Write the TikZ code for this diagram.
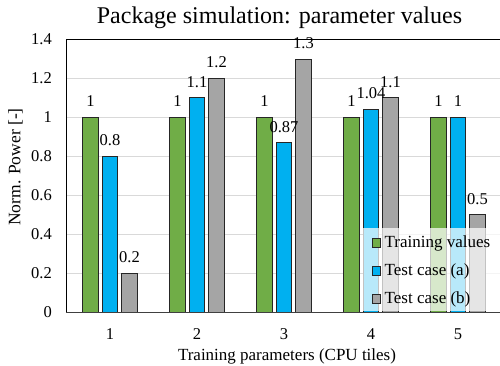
\documentclass[tikz,border=0pt]{standalone}
\usepackage{fontspec}
\setmainfont{Liberation Serif}
\definecolor{cgreen}{HTML}{70AD47}
\definecolor{cblue}{HTML}{00B0F0}
\definecolor{cgray}{HTML}{A5A5A5}
\definecolor{gridc}{HTML}{D9D9D9}
\definecolor{axisc}{HTML}{404040}
\begin{document}
\begin{tikzpicture}[x=1pt,y=-1pt,
  barbox/.style={draw=black!85, line width=0.9pt},
  lbl/.style={font=\fontsize{16.5}{18}\selectfont, inner sep=0pt},
  leglbl/.style={font=\fontsize{17}{19}\selectfont, inner sep=0pt, anchor=west},
  legmark/.style={draw=black!85, line width=0.8pt, minimum width=8.5pt, minimum height=8.5pt, inner sep=0pt}]
\useasboundingbox (0,0) rectangle (500,366);
% grid lines
\foreach \v in {1,...,6} {
  \draw[gridc, line width=0.8pt] (66,{312-\v*38.93}) -- (500,{312-\v*38.93});
}
% y tick labels
\foreach \t [count=\i from 0] in {0,0.2,0.4,0.6,0.8,1,1.2,1.4} {
  \node[lbl, anchor=east] (ytick\i) at (52,{312-\i*38.93}) {\t};
}
% bars and data labels
\foreach \c/\a/\b/\d in {1/1/0.8/0.2, 2/1/1.1/1.2, 3/1/0.87/1.3, 4/1/1.04/1.1, 5/1/1/0.5} {
  \pgfmathsetmacro{\cx}{110+(\c-1)*87}
  \pgfmathsetmacro{\xa}{\cx-19.5}
  \pgfmathsetmacro{\xc}{\cx+19.5}
  \pgfmathsetmacro{\ya}{312-\a*194.64}
  \pgfmathsetmacro{\yb}{312-\b*194.64}
  \pgfmathsetmacro{\yd}{312-\d*194.64}
  \draw[barbox, fill=cgreen] (\xa-7.75,312) rectangle (\xa+7.75,\ya);
  \draw[barbox, fill=cblue] (\cx-7.75,312) rectangle (\cx+7.75,\yb);
  \draw[barbox, fill=cgray] (\xc-7.75,312) rectangle (\xc+7.75,\yd);
  \node[lbl] (la\c) at (\xa,\ya-16) {\a};
  \node[lbl] (lb\c) at (\cx,\yb-16) {\b};
  \node[lbl] (ld\c) at (\xc,\yd-16) {\d};
  \node[lbl] (xtick\c) at (\cx,334) {\c};
}
% legend overlay
\fill[white, opacity=0.72] (363,228) rectangle (500,311);
\node[legmark, fill=cgreen] (mk1) at (376.5,243) {};
\node[legmark, fill=cblue] (mk2) at (376.5,271) {};
\node[legmark, fill=cgray] (mk3) at (376.5,299) {};
\node[leglbl] (lg1) at (384.5,243) {Training values};
\node[leglbl] (lg2) at (384.5,271) {Test case (a)};
\node[leglbl] (lg3) at (384.5,299) {Test case (b)};
% axes
\draw[black, line width=1pt] (66,312) -- (66,39.5) -- (500,39.5);
\draw[axisc, line width=1pt] (66,312) -- (500,312);
% titles
\node[font=\fontsize{24}{26}\selectfont, inner sep=0pt] (title) at (279.5,18) {Package simulation: parameter values};
\node[font=\fontsize{17.5}{19}\selectfont, inner sep=0pt, rotate=90] (ylab) at (15.5,167) {Norm. Power [-]};
\node[font=\fontsize{17}{19}\selectfont, inner sep=0pt] (xlab) at (287,356) {Training parameters (CPU tiles)};
\end{tikzpicture}
\end{document}
